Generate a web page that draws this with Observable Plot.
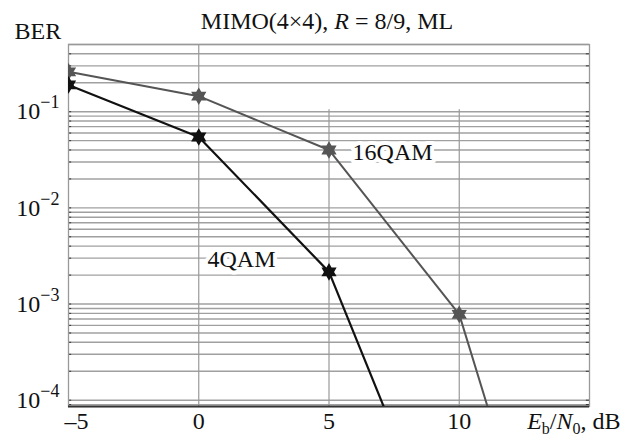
<!DOCTYPE html>
<html><head><meta charset="utf-8">
<script src="https://cdn.jsdelivr.net/npm/d3@7"></script>
<script src="https://cdn.jsdelivr.net/npm/@observablehq/plot@0.6"></script>
<style>
html,body{margin:0;padding:0;background:#fff;}
svg text{white-space:pre;}
</style>
</head><body><div id="chart"></div>
<script>
// ---- data ----
const ebn0_16 = [-5, 0, 5, 10, 15];
const ber_16 = [0.26, 0.145, 0.040, 0.00078, 3e-8];
const ebn0_4 = [-5, 0, 5, 10];
const ber_4 = [0.19, 0.0546, 0.00216, 1e-6];
const seriesNames = ["16QAM", "4QAM"];
const seriesColors = ["#555555", "#111111"];
const labelX = [7.44, 1.64];
const labelY = [0.0376, 0.0029];
const xTicks = [0, 5, 10];
const xFirstTick = [-5];
const yTicks = [1e-4, 1e-3, 1e-2, 1e-1];
const xDomain = [-5, 15];
const yDomain = [8.6e-5, 0.5];
const titleText = "MIMO(4×4), R = 8/9, ML";
const yLabel = "BER";
const xLabel = "Eb/N0, dB";

// minor log gridlines
const gridY = [];
for (let e = -5; e <= -1; e++) for (let m = 1; m <= 9; m++) {
  const v = +(m * Math.pow(10, e)).toPrecision(3);
  if (v >= yDomain[0] && v <= yDomain[1]) gridY.push(v);
}

const s16 = ebn0_16.map((x, i) => ({x, y: ber_16[i]}));
const s4 = ebn0_4.map((x, i) => ({x, y: ber_4[i]}));
const labels = seriesNames.map((t, i) => ({t, x: labelX[i], y: labelY[i]}));

const hexagram = {
  draw(ctx, size) {
    const R = Math.sqrt(size / Math.PI) * 1.1, r = R / Math.sqrt(3);
    for (let i = 0; i < 12; i++) {
      const a = Math.PI / 6 * i - Math.PI / 2, rad = i % 2 === 0 ? R : r;
      const x = rad * Math.cos(a), y = rad * Math.sin(a);
      i ? ctx.lineTo(x, y) : ctx.moveTo(x, y);
    }
    ctx.closePath();
  }
};

const font = "'Liberation Serif', 'Times New Roman', serif";
const plot = Plot.plot({
  width: 630, height: 435,
  marginLeft: 68, marginRight: 41, marginTop: 44, marginBottom: 29,
  style: {fontFamily: font, fontSize: "24px", color: "#111", background: "#fff"},
  x: {domain: xDomain, axis: null},
  y: {type: "log", domain: yDomain, axis: null},
  marks: [
    Plot.ruleY(gridY, {stroke: "#a0a0a0", strokeWidth: 1.4}),
    Plot.ruleY(gridY, {x1: xDomain[0], x2: xDomain[0] + 0.12, stroke: "#333"}),
    Plot.ruleY(gridY, {x1: xDomain[1] - 0.12, x2: xDomain[1], stroke: "#333"}),
    Plot.ruleX([0], {stroke: "#999", strokeWidth: 1.2}),
    Plot.ruleX([5, 10], {y1: yDomain[0], y2: 0.105, stroke: "#999", strokeWidth: 1.2}),
    Plot.frame({stroke: "#999", strokeWidth: 1.3}),
    Plot.ruleY([yDomain[0]], {stroke: "#333", strokeWidth: 2}),
    Plot.text(xTicks, {x: d => d, frameAnchor: "bottom", lineAnchor: "top", dy: 5, text: d => String(d), fontSize: 24}),
    Plot.text(xFirstTick, {x: d => d, frameAnchor: "bottom", lineAnchor: "top", dy: 5, dx: 8, text: d => "–" + Math.abs(d), fontSize: 24}),
    Plot.text(yTicks, {y: d => d, frameAnchor: "left", textAnchor: "end", dx: -9, text: d => "10^" + Math.round(Math.log10(d)), fontSize: 24, className: "ytl"}),
    Plot.line(s16, {x: "x", y: "y", stroke: seriesColors[0], strokeWidth: 2, clip: true}),
    Plot.line(s4, {x: "x", y: "y", stroke: seriesColors[1], strokeWidth: 2.2, clip: true}),
    Plot.dot(s16, {x: "x", y: "y", symbol: hexagram, r: 8, fill: seriesColors[0], clip: true}),
    Plot.dot(s4, {x: "x", y: "y", symbol: hexagram, r: 8, fill: seriesColors[1], clip: true}),
    Plot.text(labels, {x: "x", y: "y", text: "t", fontSize: 24, fill: "#111", stroke: "white", strokeWidth: 8}),
    Plot.text([titleText], {frameAnchor: "top", dx: -2, dy: -16, lineAnchor: "bottom", fontSize: 24, className: "ttl"}),
    Plot.text([yLabel], {frameAnchor: "top-left", textAnchor: "start", lineAnchor: "bottom", dx: -54, dy: -6, fontSize: 24}),
    Plot.text([xLabel], {frameAnchor: "bottom-right", textAnchor: "end", lineAnchor: "bottom", dx: 31, dy: 22, fontSize: 24, className: "xlab"})
  ]
});
document.getElementById("chart").appendChild(plot);

const svg = d3.select(plot);
function rebuild(sel, parts) {
  sel.each(function() {
    const t = d3.select(this);
    const txt = t.text();
    t.text(null);
    parts(txt).forEach(p => {
      const ts = t.append("tspan").text(p.s);
      if (p.it) ts.attr("font-style", "italic");
      if (p.fs) ts.attr("font-size", p.fs);
      if (p.dy) ts.attr("dy", p.dy);
    });
  });
}
rebuild(svg.selectAll(".ytl text"), txt => {
  const e = txt.split("^")[1].replace("-", "−");
  return [{s: "10"}, {s: e, fs: 18, dy: -11}];
});
rebuild(svg.selectAll(".ttl text"), txt => {
  const [a, b] = txt.split("R");
  return [{s: a}, {s: "R", it: true}, {s: b}];
});
rebuild(svg.selectAll(".xlab text"), txt => [
  {s: "E", it: true}, {s: "b", fs: 16, dy: 5}, {s: "/", dy: -5},
  {s: "N", it: true}, {s: "0", fs: 16, dy: 5}, {s: ", dB", dy: -5}
]);
</script>
</body></html>
